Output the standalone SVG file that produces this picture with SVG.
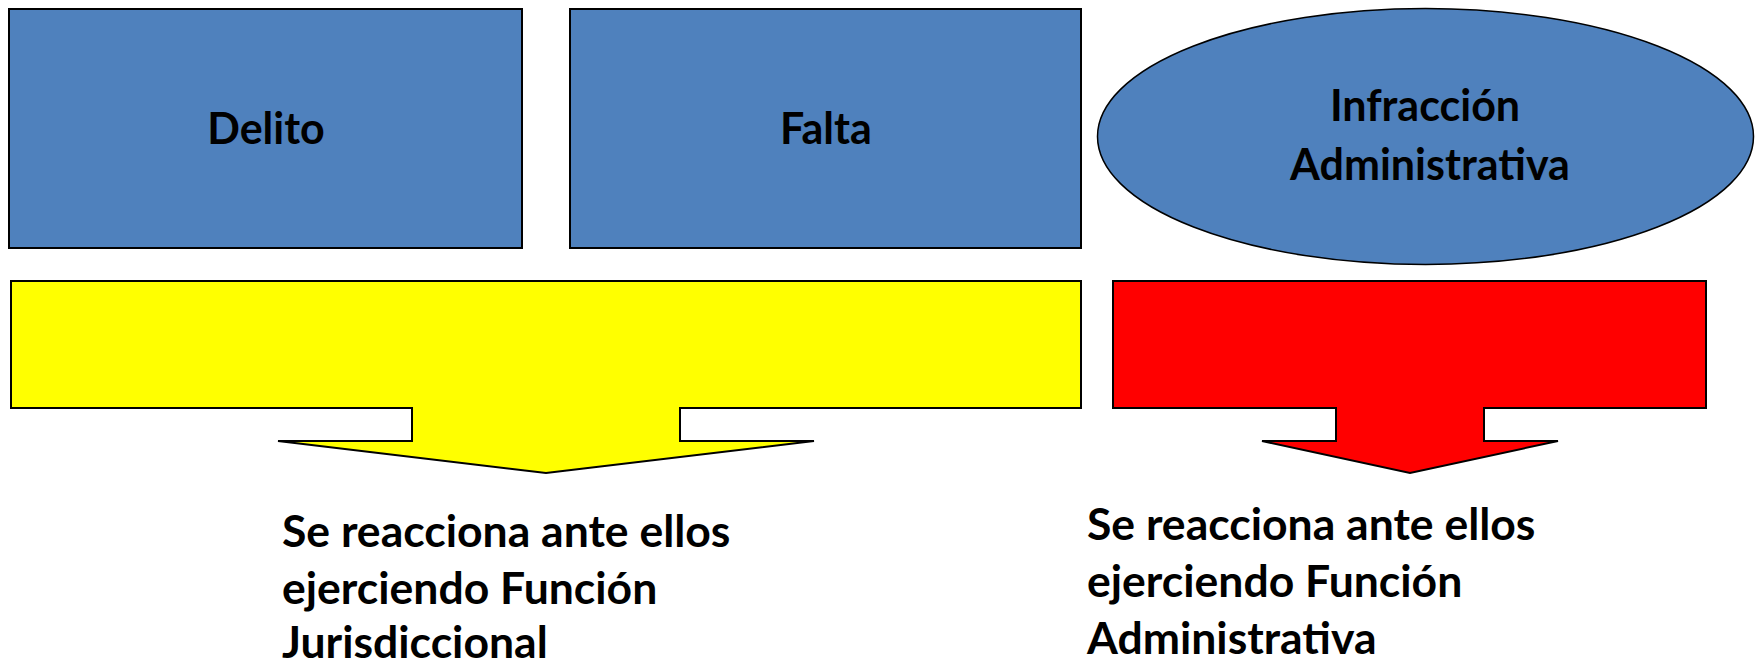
<svg xmlns="http://www.w3.org/2000/svg" width="1760" height="666" viewBox="0 0 1760 666">
<style>
.box{fill:#4F81BD;stroke:#000;stroke-width:2}
.ell{fill:#4F81BD;stroke:#000;stroke-width:1.5}
.arr{stroke:#000;stroke-width:2;stroke-linejoin:miter}
.t{font-family:Lato,"Liberation Sans",sans-serif;font-weight:bold;fill:#000}
.c{text-anchor:middle;font-size:43px}
.b{font-size:44.5px}
</style>
<rect width="1760" height="666" fill="#fff"/>
<g id="delito">
<rect class="box" x="9" y="9" width="513" height="239"/>
<text class="t c" x="266" y="144">Delito</text>
</g>
<g id="falta">
<rect class="box" x="570" y="9" width="511" height="239"/>
<text class="t c" x="826" y="144">Falta</text>
</g>
<g id="infraccion">
<ellipse class="ell" cx="1425.5" cy="136.5" rx="328" ry="128"/>
<text class="t c" x="1425" y="121">Infracción</text>
<text class="t c" x="1430" y="180">Administrativa</text>
</g>
<g id="connectors">
<path id="arrow-yellow" class="arr" fill="#FFFF00" d="M11,281 H1081 V408 H680 V441 H814 L546,473 L278,441 H412 V408 H11 Z"/>
<path id="arrow-red" class="arr" fill="#FF0000" d="M1113,281 H1706 V408 H1484 V441 H1558 L1410,473 L1262,441 H1336 V408 H1113 Z"/>
</g>
<g id="jurisdiccional">
<text class="t b" x="282" y="547">Se reacciona ante ellos</text>
<text class="t b" x="282" y="604">ejerciendo Función</text>
<text class="t b" x="282" y="658">Jurisdiccional</text>
</g>
<g id="administrativa">
<text class="t b" x="1087" y="540">Se reacciona ante ellos</text>
<text class="t b" x="1087" y="597">ejerciendo Función</text>
<text class="t b" x="1087" y="654">Administrativa</text>
</g>
</svg>
